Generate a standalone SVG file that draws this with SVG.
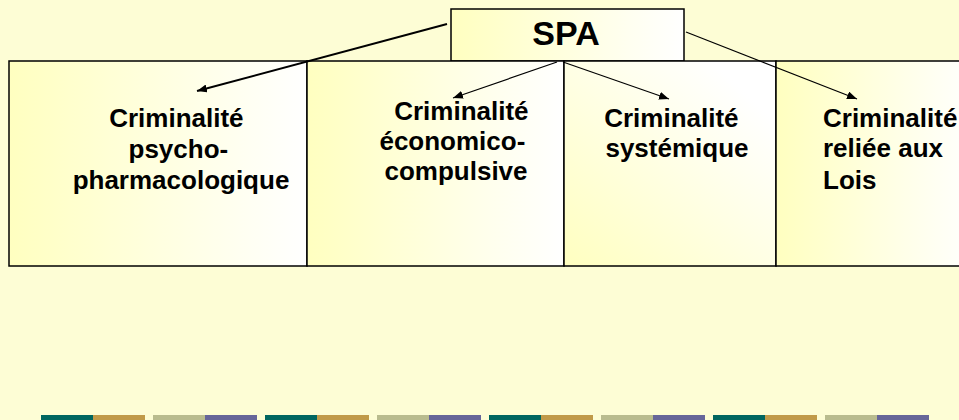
<svg xmlns="http://www.w3.org/2000/svg" width="959" height="420" viewBox="0 0 959 420">
  <defs>
    <linearGradient id="fillH" x1="0" y1="0" x2="1" y2="0">
      <stop offset="0" stop-color="#FFFFC0"/>
      <stop offset="1" stop-color="#FFFFFF"/>
    </linearGradient>
    <linearGradient id="fillD" x1="0" y1="1" x2="1" y2="0">
      <stop offset="0" stop-color="#FFFFC0"/>
      <stop offset="0.85" stop-color="#FFFFFF"/>
    </linearGradient>
    <marker id="head" viewBox="0 0 10 8" refX="10" refY="4" markerWidth="10" markerHeight="8" markerUnits="userSpaceOnUse" orient="auto">
      <path d="M0,0 L10,4 L0,8 Z" fill="#000"/>
    </marker>
  </defs>
  <style>
    .box { stroke: #000; stroke-width: 1.5; }
    .lbl { font-family: "Liberation Sans", Arial, sans-serif; font-weight: bold; font-size: 26px; fill: #000; }
    .title { font-size: 34px; }
    .arrow { fill: none; stroke: #000; stroke-width: 1.2; marker-end: url(#head); }
    .thick { stroke-width: 2; }
  </style>

  <!-- page background -->
  <rect x="0" y="0" width="959" height="420" fill="#FDFDD5"/>

  <!-- root node -->
  <g id="spa">
    <rect class="box" x="451" y="9" width="233" height="52" fill="url(#fillH)"/>
    <text class="lbl title" x="566" y="45" text-anchor="middle">SPA</text>
  </g>

  <!-- category nodes -->
  <g id="psycho">
    <rect class="box" x="9" y="61" width="298" height="205" fill="url(#fillH)"/>
    <text class="lbl" text-anchor="middle">
      <tspan x="180" y="127">Criminalité</tspan>
      <tspan x="182" y="158">psycho-</tspan>
      <tspan x="181" y="189">pharmacologique</tspan>
    </text>
  </g>

  <g id="economico">
    <rect class="box" x="307" y="61" width="257" height="205" fill="url(#fillH)"/>
    <text class="lbl" text-anchor="middle">
      <tspan x="465" y="120">Criminalité</tspan>
      <tspan x="456" y="150">économico-</tspan>
      <tspan x="456" y="180">compulsive</tspan>
    </text>
  </g>

  <g id="systemique">
    <rect class="box" x="564" y="61" width="212" height="205" fill="url(#fillD)"/>
    <text class="lbl" text-anchor="middle">
      <tspan x="675" y="127">Criminalité</tspan>
      <tspan x="677" y="157">systémique</tspan>
    </text>
  </g>

  <g id="lois">
    <rect class="box" x="776" y="61" width="200" height="205" fill="url(#fillH)"/>
    <text class="lbl">
      <tspan x="823" y="127">Criminalité</tspan>
      <tspan x="823" y="157">reliée aux</tspan>
      <tspan x="823" y="189">Lois</tspan>
    </text>
  </g>

  <!-- connectors -->
  <g id="connectors">
    <line class="arrow thick" x1="447" y1="24" x2="197" y2="91"/>
    <line class="arrow" x1="557" y1="62" x2="453" y2="98"/>
    <line class="arrow" x1="563" y1="62" x2="669" y2="99"/>
    <line class="arrow" x1="686" y1="32" x2="857" y2="99"/>
  </g>

  <!-- footer colour strip -->
  <g id="footer">
    <rect x="41" y="415" width="52" height="5" fill="#00665F"/>
    <rect x="93" y="415" width="52" height="5" fill="#C09A48"/>
    <rect x="153" y="415" width="52" height="5" fill="#B9BC8E"/>
    <rect x="205" y="415" width="52" height="5" fill="#666699"/>
    <rect x="265" y="415" width="52" height="5" fill="#00665F"/>
    <rect x="317" y="415" width="52" height="5" fill="#C09A48"/>
    <rect x="377" y="415" width="52" height="5" fill="#B9BC8E"/>
    <rect x="429" y="415" width="52" height="5" fill="#666699"/>
    <rect x="489" y="415" width="52" height="5" fill="#00665F"/>
    <rect x="541" y="415" width="52" height="5" fill="#C09A48"/>
    <rect x="601" y="415" width="52" height="5" fill="#B9BC8E"/>
    <rect x="653" y="415" width="52" height="5" fill="#666699"/>
    <rect x="713" y="415" width="52" height="5" fill="#00665F"/>
    <rect x="765" y="415" width="52" height="5" fill="#C09A48"/>
    <rect x="825" y="415" width="52" height="5" fill="#B9BC8E"/>
    <rect x="877" y="415" width="52" height="5" fill="#666699"/>
  </g>
</svg>
